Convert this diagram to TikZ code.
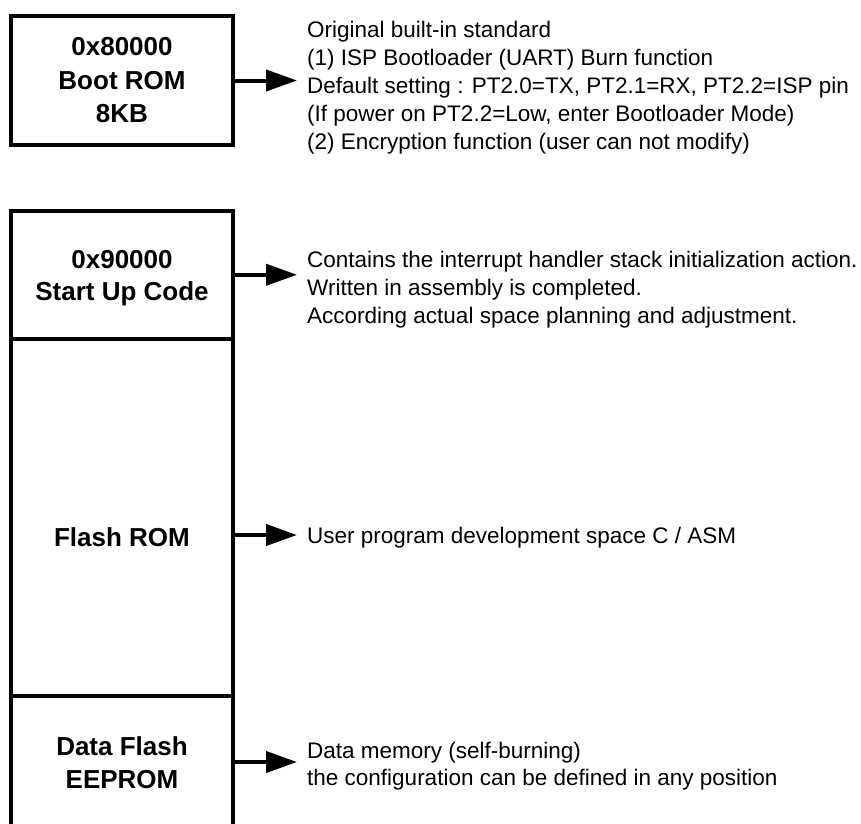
\documentclass[tikz,border=0pt]{standalone}
\usepackage{fontspec}
\setmainfont{Liberation Sans}
\usetikzlibrary{arrows.meta}
\begin{document}
\begin{tikzpicture}[x=1pt,y=-1pt,
  box/.style={draw, line width=4pt, inner sep=0pt, outer sep=0pt, minimum width=222.5pt},
  lab/.style={font=\fontsize{26}{33}\selectfont\bfseries, inner sep=0pt, anchor=base},
  desc/.style={font=\fontsize{22.5}{28}\selectfont, inner sep=0pt, anchor=base west},
  arr/.style={line width=4pt, -{Triangle[length=31pt,width=21pt]}}]
\useasboundingbox (0,0) rectangle (861,823);
\fill[white] (0,0) rectangle (861,823);
% boxes
\node[box, minimum height=129pt] (boot) at (122,80.5) {};
\node[box, minimum height=128.5pt] (startup) at (122,274.75) {};
\node[box, minimum height=357pt] (flash) at (122,517.5) {};
\node[box, minimum height=164pt] (data) at (122,778) {};
% labels
\node[lab] (b1) at (122,55) {0x80000};
\node[lab] (b2) at (122,89) {Boot ROM};
\node[lab] (b3) at (122,122) {8KB};
\node[lab] (s1) at (122,268) {0x90000};
\node[lab] (s2) at (122,300) {Start Up Code};
\node[lab] (f1) at (122,546) {Flash ROM};
\node[lab] (d1) at (122,755) {Data Flash};
\node[lab] (d2) at (122,788) {EEPROM};
% arrow tips
\coordinate (ta) at (297,80.5);
\coordinate (tb) at (297,274.75);
\coordinate (tc) at (297,535);
\coordinate (td) at (297,762);
\draw[arr] (boot.east) -- (ta);
\draw[arr] (startup.east) -- (tb);
\draw[arr] (flash.east |- tc) -- (tc);
\draw[arr] (data.east |- td) -- (td);
% descriptions
\node[desc] (e1) at (307,37) {Original built-in standard};
\node[desc] (e2) at (307,65) {(1) ISP Bootloader (UART) Burn function};
\node[desc] (e3) at (307,93) {Default setting : PT2.0=TX, PT2.1=RX, PT2.2=ISP pin};
\node[desc] (e4) at (307,121) {(If power on PT2.2=Low, enter Bootloader Mode)};
\node[desc] (e5) at (307,149) {(2) Encryption function (user can not modify)};
\node[desc] (g1) at (307,267) {Contains the interrupt handler stack initialization action.};
\node[desc] (g2) at (307,295) {Written in assembly is completed.};
\node[desc] (g3) at (307,323) {According actual space planning and adjustment.};
\node[desc] (h1) at (307,543) {User program development space C / ASM};
\node[desc] (k1) at (307,758) {Data memory (self-burning)};
\node[desc] (k2) at (307,785) {the configuration can be defined in any position};
\end{tikzpicture}
\end{document}
